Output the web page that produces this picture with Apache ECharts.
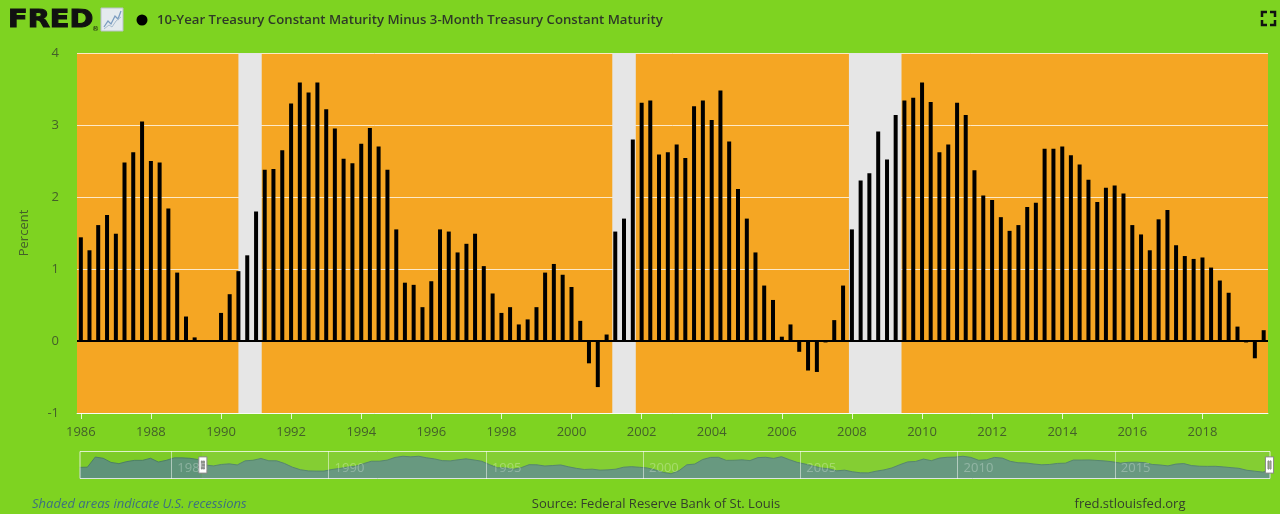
<!DOCTYPE html>
<html>
<head>
<meta charset="utf-8">
<script src="https://cdn.jsdelivr.net/npm/echarts@6/dist/echarts.min.js"></script>
<style>
html,body{margin:0;padding:0;background:#7ed321;}
#chart{width:1280px;height:514px;}
</style>
</head>
<body>
<div id="chart"></div>
<script>
// ---- data (quarterly, 10Y minus 3M spread, percent) ----
const firstYear = 1982;
const lastYear = 2019;
const spread = [
  0.90, 0.95, 3.40, 3.10,   // 1982
  2.10, 1.80, 2.30, 2.60,   // 1983
  2.60, 3.10, 2.20, 2.60,   // 1984
  3.20, 3.20, 3.10, 2.80,   // 1985
  1.44, 1.26, 1.61, 1.75,   // 1986
  1.49, 2.48, 2.62, 3.05,   // 1987
  2.50, 2.48, 1.84, 0.95,   // 1988
  0.34, 0.05, 0.00, 0.00,   // 1989
  0.39, 0.65, 0.97, 1.19,   // 1990
  1.80, 2.38, 2.39, 2.65,   // 1991
  3.30, 3.59, 3.45, 3.59,   // 1992
  3.22, 2.95, 2.53, 2.47,   // 1993
  2.74, 2.96, 2.70, 2.38,   // 1994
  1.55, 0.81, 0.78, 0.47,   // 1995
  0.83, 1.55, 1.52, 1.23,   // 1996
  1.35, 1.49, 1.04, 0.66,   // 1997
  0.39, 0.47, 0.23, 0.30,   // 1998
  0.47, 0.95, 1.07, 0.92,   // 1999
  0.75, 0.28, -0.31, -0.64, // 2000
  0.09, 1.52, 1.70, 2.80,   // 2001
  3.31, 3.34, 2.59, 2.62,   // 2002
  2.73, 2.54, 3.26, 3.34,   // 2003
  3.07, 3.48, 2.77, 2.11,   // 2004
  1.70, 1.23, 0.77, 0.57,   // 2005
  0.06, 0.23, -0.15, -0.41, // 2006
  -0.43, -0.02, 0.29, 0.77, // 2007
  1.55, 2.23, 2.33, 2.91,   // 2008
  2.52, 3.14, 3.34, 3.38,   // 2009
  3.59, 3.32, 2.62, 2.73,   // 2010
  3.31, 3.14, 2.37, 2.02,   // 2011
  1.96, 1.72, 1.53, 1.61,   // 2012
  1.86, 1.92, 2.67, 2.67,   // 2013
  2.70, 2.58, 2.45, 2.24,   // 2014
  1.93, 2.13, 2.16, 2.05,   // 2015
  1.61, 1.48, 1.26, 1.69,   // 2016
  1.82, 1.33, 1.18, 1.14,   // 2017
  1.16, 1.02, 0.84, 0.67,   // 2018
  0.20, -0.02, -0.24, 0.15  // 2019
];
const quarterMonths = [0, 3, 6, 9];
const recessions = [
  ['1990-07-01', '1991-03-01'],
  ['2001-03-01', '2001-11-01'],
  ['2007-12-01', '2009-06-01']
];
const mainTickYears = [1986,1988,1990,1992,1994,1996,1998,2000,2002,2004,2006,2008,2010,2012,2014,2016,2018];
const navTickYears = [1985,1990,1995,2000,2005,2010,2015];
const yTicks = {min: -1, max: 4, interval: 1};
const titleText = '10-Year Treasury Constant Maturity Minus 3-Month Treasury Constant Maturity';

// ---- build ----
function utc(s){ const p = s.split('-').map(Number); return Date.UTC(p[0], p[1]-1, p[2]); }
const seriesData = [];
let k = 0;
for (let y = firstYear; y <= lastYear; y++) {
  for (const m of quarterMonths) {
    seriesData.push([Date.UTC(y, m, 1), spread[k++]]);
  }
}
const axisMin = Date.UTC(1982, 0, 1);
const axisMax = Date.UTC(2019, 10, 15);
const viewStart = Date.UTC(1985, 10, 22);
const mainTicks = mainTickYears.map(y => Date.UTC(y, 0, 1));
const navTicks = navTickYears.map(y => Date.UTC(y, 0, 1));
const yearFmt = v => String(new Date(v).getUTCFullYear());

const labelColor = '#44602a';
const FONT = '"Open Sans", sans-serif';

const chart = echarts.init(document.getElementById('chart'), null, {renderer: 'canvas'});
chart.setOption({
  animation: false,
  backgroundColor: '#7ed321',
  textStyle: {fontFamily: FONT},
  grid: [
    {left: 77, right: 12, top: 53, bottom: 101, show: true, backgroundColor: '#f5a623', borderWidth: 0},
    {left: 77, right: 12, top: 451, height: 28, show: false}
  ],
  xAxis: [
    {
      type: 'value', gridIndex: 0, min: axisMin, max: axisMax, scale: true,
      axisLine: {show: true, onZero: false, lineStyle: {color: 'rgba(255,255,255,0.8)', width: 1}},
      axisTick: {show: true, customValues: mainTicks, length: 6, lineStyle: {color: 'rgba(255,255,255,0.8)'}},
      axisLabel: {customValues: mainTicks, formatter: yearFmt, color: labelColor, fontSize: 13, margin: 13, fontFamily: FONT},
      splitLine: {show: false}
    },
    {
      type: 'value', gridIndex: 1, min: axisMin, max: axisMax, scale: true, z: 10,
      axisLine: {show: false, onZero: false},
      axisTick: {show: true, inside: true, customValues: navTicks, length: 28, lineStyle: {color: 'rgba(255,255,255,0.5)', width: 1}},
      axisLabel: {show: true, inside: true, customValues: navTicks, formatter: yearFmt, color: 'rgba(255,255,255,0.28)', fontSize: 13, margin: 4, align: 'left', padding: [0,0,0,6], fontFamily: FONT},
      splitLine: {show: false}
    }
  ],
  yAxis: [
    {
      type: 'value', gridIndex: 0, min: yTicks.min, max: yTicks.max, interval: yTicks.interval,
      name: 'Percent', nameLocation: 'middle', nameGap: 46,
      nameTextStyle: {color: labelColor, fontSize: 13, fontFamily: FONT},
      axisLine: {show: false}, axisTick: {show: false},
      axisLabel: {color: labelColor, fontSize: 13, margin: 18, fontFamily: FONT},
      splitLine: {show: true, lineStyle: {color: 'rgba(255,255,255,0.75)', width: 1}}
    },
    {type: 'value', gridIndex: 1, show: false, min: 0, max: 1}
  ],
  dataZoom: [{
    type: 'slider', xAxisIndex: 0, filterMode: 'filter',
    startValue: viewStart, endValue: axisMax,
    left: 77, right: 12, top: 451, height: 28,
    showDetail: false, brushSelect: false, moveHandleSize: 0,
    borderColor: 'rgba(255,255,255,0.75)', borderRadius: 0,
    backgroundColor: 'rgba(110,120,110,0.08)',
    fillerColor: 'rgba(255,255,255,0.06)',
    showDataShadow: true,
    dataBackground: {
      lineStyle: {color: '#4c7f66', width: 1, opacity: 1},
      areaStyle: {color: '#5f9379', opacity: 1}
    },
    selectedDataBackground: {
      lineStyle: {color: '#4c7f66', width: 1, opacity: 1},
      areaStyle: {color: '#5f9379', opacity: 1}
    },
    handleIcon: 'path://M0,0H8V16H0Z M2.5,4V12H3.5V4Z M4.5,4V12H5.5V4Z',
    handleSize: '58%',
    handleStyle: {color: '#ffffff', borderColor: '#8a8a8a', borderWidth: 1},
    emphasis: {handleStyle: {color: '#ffffff', borderColor: '#8a8a8a'}}
  }],
  series: [{
    type: 'bar', xAxisIndex: 0, yAxisIndex: 0,
    data: seriesData, barWidth: 4,
    itemStyle: {color: '#000000'},
    clip: true,
    markArea: {
      silent: true,
      itemStyle: {color: '#e6e6e6', opacity: 1},
      data: recessions.map(r => [{xAxis: utc(r[0])}, {xAxis: utc(r[1])}])
    },
    markLine: {
      silent: true, symbol: 'none', label: {show: false},
      lineStyle: {color: '#000', width: 2, type: 'solid'},
      data: [{yAxis: 0}]
    }
  }],
  graphic: [
    {type: 'text', x: 8, y: 21, scaleX: 1.2, style: {text: 'FRED', font: 'bold 24px "DejaVu Sans"', fill: '#111', stroke: '#111', lineWidth: 1, textVerticalAlign: 'middle'}},
    {type: 'text', x: 92, y: 29, style: {text: '\u00ae', font: '7px "DejaVu Sans"', fill: '#111', textVerticalAlign: 'middle'}},
    {type: 'rect', shape: {x: 101, y: 8, width: 22, height: 23}, style: {fill: '#e4eaee', stroke: '#b8c2c8', lineWidth: 1}},
    {type: 'polyline', shape: {points: [[104,27],[108,21],[111,24],[115,16],[118,19],[121,11]]}, style: {stroke: '#7a9cc0', lineWidth: 1.3, fill: null}},
    {type: 'polyline', shape: {points: [[104,29],[109,25],[112,27],[116,21],[121,17]]}, style: {stroke: '#a8bcd0', lineWidth: 1, fill: null}},
    {type: 'circle', shape: {cx: 142, cy: 20, r: 5.5}, style: {fill: '#000'}},
    {type: 'text', x: 157, y: 20.5, style: {text: titleText, font: '600 13.2px "Open Sans"', fill: '#2f3a28', textVerticalAlign: 'middle'}},
    {type: 'polyline', shape: {points: [[1262,17],[1262,12],[1267,12]]}, style: {stroke: '#111', lineWidth: 2.5, fill: null}},
    {type: 'polyline', shape: {points: [[1270,12],[1275,12],[1275,17]]}, style: {stroke: '#111', lineWidth: 2.5, fill: null}},
    {type: 'polyline', shape: {points: [[1262,20],[1262,25],[1267,25]]}, style: {stroke: '#111', lineWidth: 2.5, fill: null}},
    {type: 'polyline', shape: {points: [[1270,25],[1275,25],[1275,20]]}, style: {stroke: '#111', lineWidth: 2.5, fill: null}},
    {type: 'text', x: 32, y: 504, style: {text: 'Shaded areas indicate U.S. recessions', font: 'italic 13px "Open Sans"', fill: '#3d7080', textVerticalAlign: 'middle'}},
    {type: 'text', x: 656, y: 504, style: {text: 'Source: Federal Reserve Bank of St. Louis', font: '13px "Open Sans"', fill: '#34402c', textAlign: 'center', textVerticalAlign: 'middle'}},
    {type: 'text', x: 1130, y: 504, style: {text: 'fred.stlouisfed.org', font: '13px "Open Sans"', fill: '#34402c', textAlign: 'center', textVerticalAlign: 'middle'}}
  ]
});
</script>
</body>
</html>
